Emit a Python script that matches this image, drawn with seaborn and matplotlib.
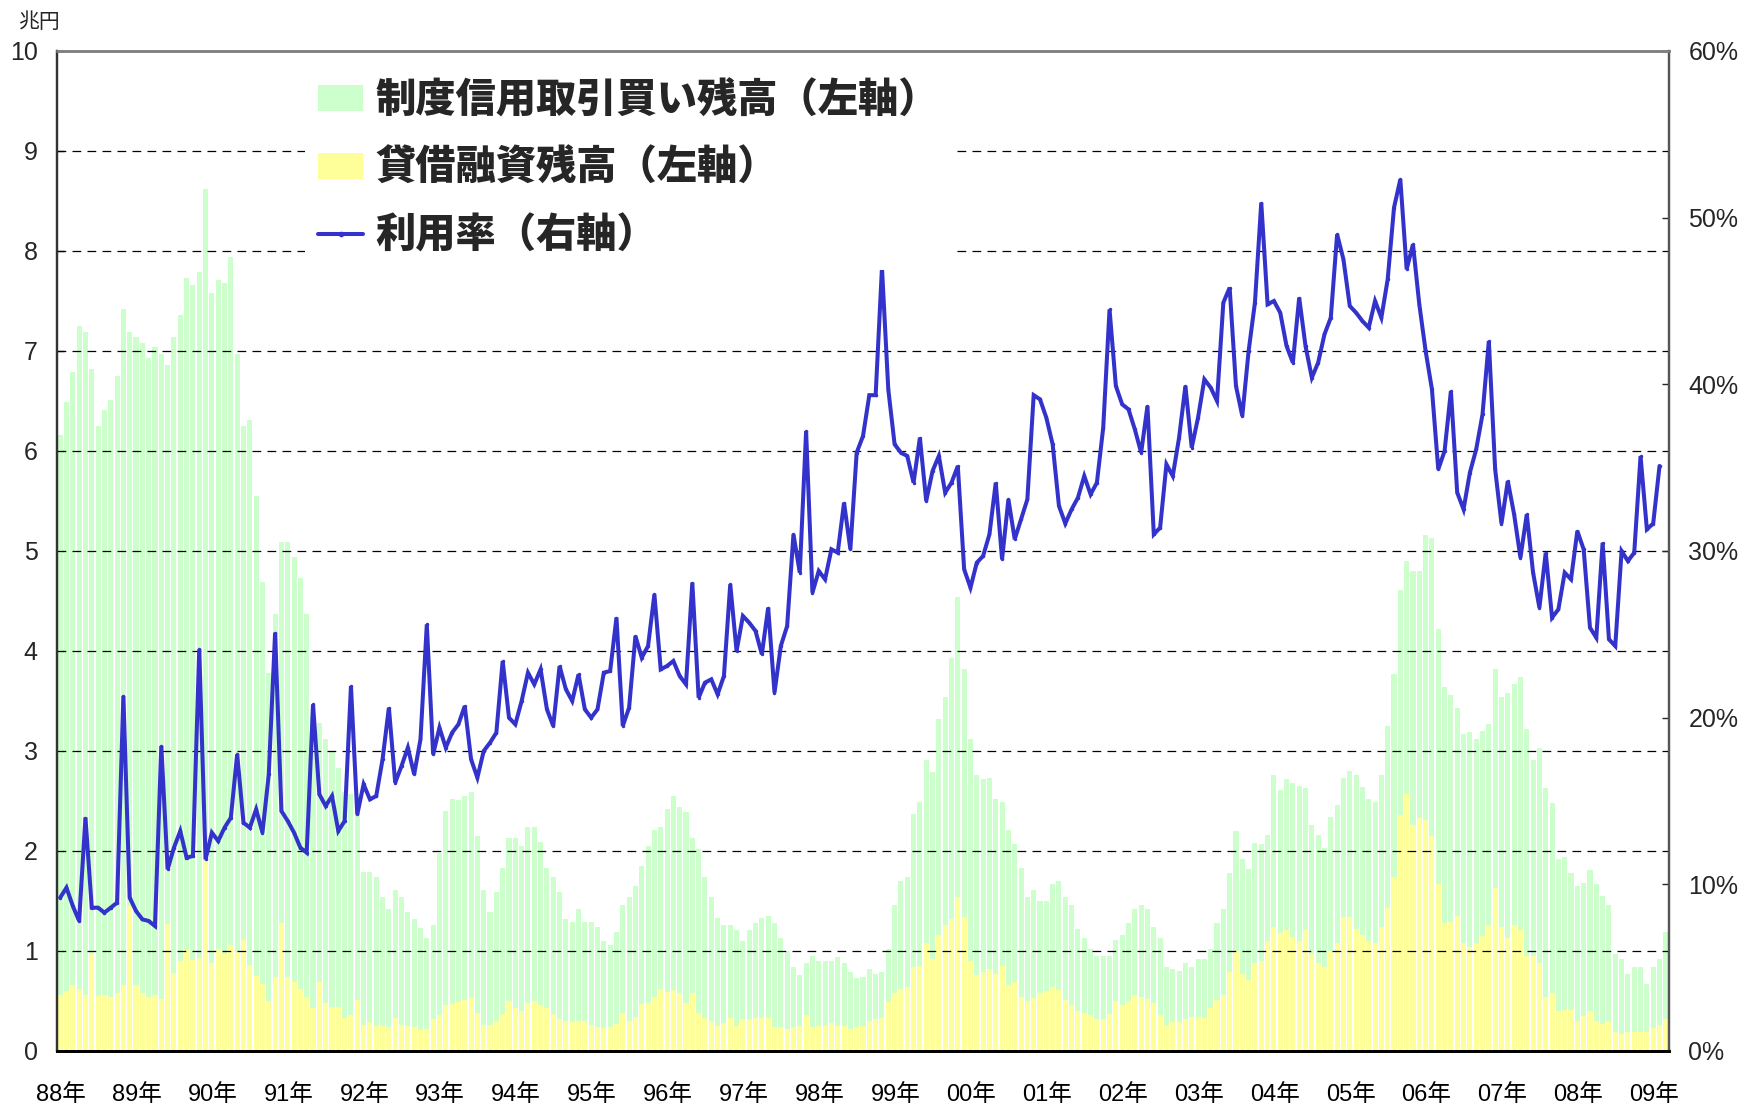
import numpy as np
import pandas as pd
import matplotlib
matplotlib.use("Agg")
import matplotlib.pyplot as plt
from matplotlib.patches import Patch
from matplotlib.lines import Line2D
from matplotlib.font_manager import FontProperties
from matplotlib.transforms import ScaledTranslation
import seaborn as sns

# ---- data (monthly, Jan 1988 - Mar 2009) ----
start_year = 1988
year_labels = [f"{y % 100:02d}年" for y in range(1988, 2010)]

margin_buy = [  # 制度信用取引買い残高 (兆円)
    6.16, 6.49, 6.79, 7.25, 7.19, 6.82, 6.25, 6.41, 6.51, 6.75, 7.42, 7.19, 7.14, 7.08, 6.93, 7.04,
    6.97, 6.86, 7.14, 7.36, 7.73, 7.66, 7.79, 8.62, 7.58, 7.71, 7.68, 7.94, 6.97, 6.25, 6.31, 5.55,
    4.69, 3.78, 4.37, 5.09, 5.09, 4.94, 4.73, 4.37, 3.36, 3.28, 3.12, 2.99, 2.83, 2.59, 2.57, 2.57,
    1.79, 1.79, 1.74, 1.54, 1.42, 1.61, 1.54, 1.39, 1.32, 1.23, 1.13, 1.26, 1.98, 2.40, 2.52, 2.51,
    2.55, 2.59, 2.15, 1.61, 1.39, 1.59, 1.83, 2.13, 2.13, 2.05, 2.24, 2.24, 2.09, 1.83, 1.74, 1.59,
    1.32, 1.29, 1.42, 1.29, 1.29, 1.24, 1.10, 1.06, 1.19, 1.46, 1.54, 1.65, 1.85, 2.05, 2.21, 2.24,
    2.42, 2.55, 2.44, 2.39, 2.13, 2.02, 1.74, 1.54, 1.33, 1.26, 1.26, 1.21, 1.10, 1.21, 1.28, 1.33,
    1.35, 1.28, 1.13, 1.00, 0.84, 0.76, 0.88, 0.95, 0.90, 0.90, 0.90, 0.94, 0.88, 0.79, 0.73, 0.74,
    0.82, 0.77, 0.79, 1.02, 1.46, 1.70, 1.74, 2.37, 2.49, 2.91, 2.79, 3.32, 3.54, 3.93, 4.54, 3.82,
    3.12, 2.76, 2.72, 2.73, 2.52, 2.49, 2.21, 2.07, 1.83, 1.54, 1.61, 1.50, 1.50, 1.67, 1.70,
    1.54, 1.46, 1.22, 1.13, 1.02, 0.95, 0.95, 0.95, 1.11, 1.16, 1.28, 1.42, 1.46, 1.42, 1.24, 1.13,
    0.84, 0.82, 0.80, 0.88, 0.84, 0.92, 0.92, 1.02, 1.28, 1.42, 1.78, 2.20, 1.92, 1.82, 2.08, 2.07,
    2.16, 2.76, 2.61, 2.72, 2.68, 2.65, 2.63, 2.26, 2.16, 2.03, 2.34, 2.46, 2.73, 2.80, 2.76, 2.64,
    2.52, 2.49, 2.76, 3.25, 3.77, 4.61, 4.90, 4.80, 4.80, 5.16, 5.13, 4.22, 3.64, 3.56, 3.43,
    3.17, 3.19, 3.12, 3.20, 3.27, 3.82, 3.54, 3.58, 3.67, 3.74, 3.22, 2.91, 3.03, 2.63, 2.48, 1.92,
    1.94, 1.78, 1.65, 1.68, 1.81, 1.67, 1.55, 1.46, 0.97, 0.92, 0.77, 0.84, 0.84, 0.67, 0.84, 0.92,
    1.19,
]

loan_balance = [  # 貸借融資残高 (兆円)
    0.56, 0.60, 0.66, 0.62, 0.56, 0.97, 0.55, 0.56, 0.54, 0.58, 0.66, 1.45, 0.66, 0.58, 0.54, 0.56,
    0.52, 1.27, 0.78, 0.90, 1.01, 0.91, 0.93, 1.90, 0.88, 1.02, 0.97, 1.06, 0.99, 1.11, 0.86, 0.75,
    0.67, 0.50, 0.74, 1.28, 0.74, 0.69, 0.62, 0.54, 0.43, 0.69, 0.48, 0.44, 0.44, 0.33, 0.36, 0.51,
    0.26, 0.29, 0.25, 0.25, 0.24, 0.33, 0.26, 0.25, 0.24, 0.21, 0.22, 0.32, 0.36, 0.46, 0.47, 0.49,
    0.51, 0.54, 0.38, 0.26, 0.26, 0.30, 0.37, 0.50, 0.43, 0.40, 0.48, 0.50, 0.46, 0.43, 0.37, 0.32,
    0.30, 0.29, 0.30, 0.30, 0.26, 0.24, 0.23, 0.24, 0.27, 0.38, 0.30, 0.34, 0.47, 0.48, 0.54, 0.62,
    0.59, 0.61, 0.58, 0.48, 0.58, 0.38, 0.33, 0.30, 0.25, 0.28, 0.33, 0.25, 0.32, 0.32, 0.33, 0.33,
    0.33, 0.24, 0.24, 0.22, 0.24, 0.25, 0.36, 0.24, 0.25, 0.25, 0.28, 0.25, 0.25, 0.22, 0.24, 0.25,
    0.30, 0.32, 0.33, 0.49, 0.58, 0.62, 0.64, 0.84, 0.85, 1.08, 0.92, 1.16, 1.26, 1.32, 1.54, 1.34,
    0.90, 0.76, 0.79, 0.82, 0.77, 0.85, 0.66, 0.69, 0.54, 0.50, 0.53, 0.58, 0.60, 0.64, 0.61,
    0.51, 0.46, 0.40, 0.38, 0.36, 0.32, 0.32, 0.37, 0.50, 0.46, 0.50, 0.56, 0.54, 0.52, 0.48, 0.36,
    0.25, 0.29, 0.29, 0.32, 0.34, 0.34, 0.33, 0.43, 0.51, 0.56, 0.79, 1.00, 0.77, 0.71, 0.88, 0.90,
    1.10, 1.24, 1.18, 1.21, 1.14, 1.10, 1.21, 0.97, 0.88, 0.84, 1.00, 1.08, 1.34, 1.34, 1.22, 1.16,
    1.10, 1.08, 1.24, 1.43, 1.74, 2.36, 2.57, 2.26, 2.33, 2.31, 2.15, 1.67, 1.28, 1.29, 1.35,
    1.08, 1.04, 1.08, 1.15, 1.26, 1.63, 1.24, 1.13, 1.26, 1.21, 0.95, 0.95, 0.88, 0.54, 0.58, 0.40,
    0.41, 0.41, 0.30, 0.35, 0.40, 0.30, 0.27, 0.30, 0.19, 0.17, 0.19, 0.19, 0.19, 0.19, 0.23, 0.26,
    0.32,
]

usage_rate = [  # 利用率 (%), Jan 1988 - Feb 2009
    9.2, 9.8, 8.7, 7.8, 14.0, 8.6, 8.6, 8.3, 8.6, 8.9, 21.3, 9.2, 8.4, 7.9, 7.8, 7.5,
    18.3, 10.9, 12.2, 13.2, 11.6, 11.7, 24.1, 11.5, 13.1, 12.6, 13.4, 14.0, 17.8, 13.7, 13.4, 14.5,
    13.1, 16.6, 25.1, 14.4, 13.8, 13.1, 12.2, 11.9, 20.8, 15.4, 14.7, 15.3, 13.2, 13.8, 21.9, 14.2,
    16.0, 15.1, 15.3, 17.5, 20.6, 16.1, 17.1, 18.2, 16.6, 18.7, 25.6, 17.8, 19.4, 18.2, 19.1, 19.6,
    20.7, 17.5, 16.4, 18.0, 18.5, 19.1, 23.4, 20.0, 19.6, 21.0, 22.7, 22.0, 22.9, 20.5, 19.5, 23.1,
    21.7, 21.0, 22.6, 20.5, 20.0, 20.5, 22.7, 22.8, 26.0, 19.5, 20.6, 24.9, 23.6, 24.3, 27.4, 22.9,
    23.1, 23.4, 22.5, 22.0, 28.1, 21.2, 22.1, 22.3, 21.4, 22.5, 28.0, 24.0, 26.1, 25.7, 25.2, 23.8,
    26.6, 21.5, 24.3, 25.5, 31.0, 28.7, 37.2, 27.5, 28.8, 28.3, 30.1, 29.9, 32.9, 30.1, 35.9, 36.9,
    39.35, 39.35, 47.0, 39.7, 36.4, 35.9, 35.7, 34.1, 36.8, 33.0, 34.8, 35.7, 33.5, 34.1, 35.1, 28.9,
    27.8, 29.3, 29.7, 31.0, 34.1, 29.5, 33.1, 30.7, 31.9, 33.1, 39.35, 39.1, 38.0, 36.4, 32.7,
    31.65, 32.5, 33.2, 34.5, 33.4, 34.1, 37.4, 44.5, 39.9, 38.8, 38.5, 37.3, 35.9, 38.7, 31.0, 31.4,
    35.2, 34.5, 36.8, 39.9, 36.2, 38.0, 40.3, 39.8, 39.0, 44.9, 45.8, 39.9, 38.1, 42.0, 44.9, 50.9,
    44.8, 45.0, 44.3, 42.3, 41.3, 45.2, 42.3, 40.4, 41.3, 43.0, 44.0, 49.0, 47.5, 44.7, 44.3, 43.8,
    43.4, 45.0, 44.0, 46.3, 50.6, 52.3, 46.9, 48.4, 44.8, 42.0, 39.7, 34.9, 36.0, 39.6, 33.5,
    32.5, 34.7, 36.1, 38.2, 42.6, 34.9, 31.65, 34.2, 32.2, 29.6, 32.2, 28.7, 26.6, 29.9, 26.0, 26.5,
    28.7, 28.3, 31.2, 30.1, 25.4, 24.8, 30.5, 24.7, 24.3, 30.0, 29.4, 29.9, 35.7, 31.3, 31.65, 35.1,
]

series_labels = ["制度信用取引買い残高（左軸）", "貸借融資残高（左軸）", "利用率（右軸）"]

# ---- frame ----
n = len(margin_buy)
rate = usage_rate + [np.nan] * (n - len(usage_rate))
df = pd.DataFrame({"m": np.arange(n), "buy": margin_buy, "loan": loan_balance, "rate": rate})

GREEN = "#CCFFCC"
YELLOW = "#FFFF99"
BLUE = "#3333CC"

sns.set_style("white")
plt.rcParams["font.family"] = ["Liberation Sans", "Noto Sans CJK JP", "DejaVu Sans"]

W, H = 1744, 1106
fig = plt.figure(figsize=(W / 100, H / 100), dpi=100)
ax = fig.add_axes([57 / W, 1 - 1051 / H, (1669 - 57) / W, (1051 - 51) / H])

sns.barplot(data=df, x="m", y="buy", color=GREEN, saturation=1, width=0.8,
            errorbar=None, linewidth=0, ax=ax, zorder=1)
sns.barplot(data=df, x="m", y="loan", color=YELLOW, saturation=1, width=0.8,
            errorbar=None, linewidth=0, ax=ax, zorder=2)

for yv in range(1, 10):
    ax.axhline(yv, color="black", lw=0.9, ls=(0, (7, 5)), zorder=3)

ax.set_ylim(0, 10)
ax.set_xlim(-0.5, n - 0.5)
ax.set_yticks(range(0, 11))
ax.set_yticklabels([str(v) for v in range(0, 11)], fontsize=18)
ticks = [12 * k - 0.5 for k in range(len(year_labels))]
ax.set_xticks(ticks)
ax.set_xticklabels(year_labels, fontsize=17)
ax.tick_params(axis="x", direction="in", length=7, width=1, pad=24, colors="black")
ax.tick_params(axis="y", direction="in", length=5, width=1, pad=14)
ax.set_xlabel("")
ax.set_ylabel("")
shift = ScaledTranslation(4 / 100, 0, fig.dpi_scale_trans)
for lab in ax.get_xticklabels():
    lab.set_transform(lab.get_transform() + shift)

ax2 = ax.twinx()
sns.lineplot(data=df, x="m", y="rate", color=BLUE, linewidth=2.9, marker="o",
             markersize=2.5, markeredgewidth=0, ax=ax2, zorder=5)
for ln in ax2.get_lines():
    ln.set_solid_joinstyle("miter")
ax2.set_ylim(0, 60)
ax2.set_xlim(-0.5, n - 0.5)
ax2.set_yticks(range(0, 61, 10))
ax2.set_yticklabels([f"{v}%" for v in range(0, 61, 10)], fontsize=18)
ax2.tick_params(axis="y", direction="in", length=5, width=1, pad=14)
ax2.set_ylabel("")
ax2.set_xlabel("")

for a in (ax, ax2):
    a.spines["top"].set_color("#808080")
    a.spines["top"].set_linewidth(1.8)
    a.spines["left"].set_color("#333333")
    a.spines["left"].set_linewidth(1.6)
    a.spines["right"].set_color("#555555")
    a.spines["right"].set_linewidth(1.6)
    a.spines["bottom"].set_color("black")
    a.spines["bottom"].set_linewidth(2.0)

fig.text(18 / W, 1 - 22 / H, "兆円", fontsize=15, va="center", ha="left",
         family=["Noto Sans CJK JP", "DejaVu Sans"])

handles = [
    Patch(facecolor=GREEN, edgecolor="none"),
    Patch(facecolor=YELLOW, edgecolor="none"),
    Line2D([], [], color=BLUE, lw=2.9, marker="o", markersize=3),
]
leg = ax2.legend(handles, series_labels, loc="upper left",
                 bbox_to_anchor=(305 / W, 1 - 66 / H), bbox_transform=fig.transFigure,
                 prop=FontProperties(family="Noto Sans CJK JP", weight="heavy", size=29),
                 frameon=True, facecolor="white", edgecolor="none", framealpha=1,
                 fancybox=False, borderpad=0.33, handlelength=1.12, handleheight=0.6,
                 handletextpad=0.3, labelspacing=0.64, borderaxespad=0)
leg.set_zorder(10)

fig.savefig("out.png", dpi=100)
